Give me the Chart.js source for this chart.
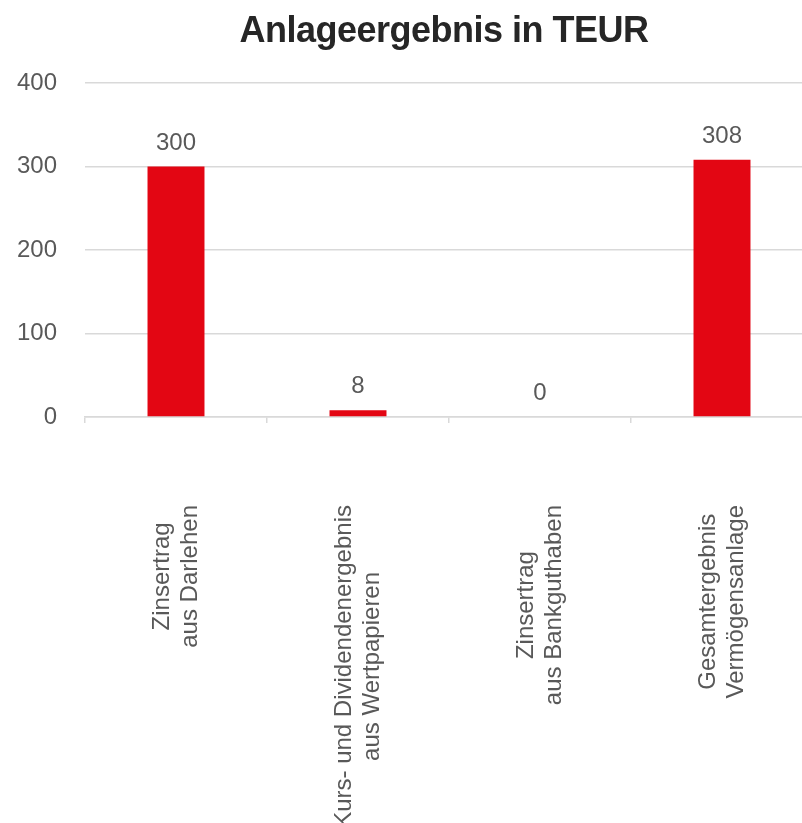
<!DOCTYPE html>
<html lang="de">
<head>
<meta charset="utf-8">
<title>Anlageergebnis in TEUR</title>
<script src="https://cdn.jsdelivr.net/npm/chart.js@4.4.1/dist/chart.umd.min.js"></script>
<style>
    html, body { margin: 0; padding: 0; background: #fff; overflow: hidden; }
    #wrap { width: 830px; height: 823px; }
</style>
</head>
<body>
<div id="wrap"><canvas id="chart" width="830" height="823"></canvas></div>
<script>
// Anlageergebnis chart data
const titleText = 'Anlageergebnis in TEUR';
const categories = [
    ['Zinsertrag', 'aus Darlehen'],
    ['Kurs- und Dividendenergebnis', 'aus Wertpapieren'],
    ['Zinsertrag', 'aus Bankguthaben'],
    ['Gesamtergebnis', 'Vermögensanlage']
];
const values = [300, 8, 0, 308];
const yTicks = [0, 100, 200, 300, 400];

const RED = '#e30613';
const GREY_TEXT = '#595959';
const GRID = '#d9d9d9';
const FONT = '"Liberation Sans", Arial, sans-serif';

// Title, category labels and value labels drawn on the canvas
const textLayer = {
    id: 'textLayer',
    afterDatasetsDraw(chart) {
        const ctx = chart.ctx;
        const xScale = chart.scales.x;

        // values above the bars
        ctx.save();
        ctx.font = '24px ' + FONT;
        ctx.fillStyle = GREY_TEXT;
        ctx.textAlign = 'center';
        ctx.textBaseline = 'alphabetic';
        chart.getDatasetMeta(0).data.forEach((bar, i) => {
            ctx.fillText(String(values[i]), bar.x, bar.y - 17);
        });
        ctx.restore();

        // rotated category labels, lines centered within their block
        ctx.save();
        ctx.font = '24px ' + FONT;
        ctx.fillStyle = GREY_TEXT;
        ctx.textAlign = 'center';
        ctx.textBaseline = 'middle';
        const lineHeight = 28;
        const top = 505;
        categories.forEach((lines, i) => {
            const x = xScale.getPixelForValue(i);
            const maxW = Math.max(...lines.map(l => ctx.measureText(l).width));
            ctx.save();
            ctx.translate(x, top + maxW / 2);
            ctx.rotate(-Math.PI / 2);
            lines.forEach((line, j) => {
                ctx.fillText(line, 0, (j - (lines.length - 1) / 2) * lineHeight);
            });
            ctx.restore();
        });
        ctx.restore();

        // title
        ctx.save();
        ctx.font = 'bold 36px ' + FONT;
        ctx.letterSpacing = '-0.5px';
        ctx.fillStyle = '#262626';
        ctx.textAlign = 'center';
        ctx.textBaseline = 'alphabetic';
        ctx.fillText(titleText, 444, 42);
        ctx.restore();
    }
};

new Chart(document.getElementById('chart'), {
    type: 'bar',
    data: {
        labels: categories,
        datasets: [{
            data: values,
            backgroundColor: RED,
            borderWidth: 0,
            categoryPercentage: 1,
            barPercentage: 0.313
        }]
    },
    options: {
        responsive: false,
        animation: false,
        layout: { padding: { top: 83, right: 17, bottom: 400, left: 0 } },
        plugins: {
            legend: { display: false },
            tooltip: { enabled: false }
        },
        scales: {
            x: {
                grid: {
                    offset: true,
                    drawOnChartArea: false,
                    drawTicks: true,
                    tickLength: 6,
                    color: GRID,
                    lineWidth: 1.5
                },
                border: { display: true, color: GRID, width: 1.5 },
                ticks: { display: false }
            },
            y: {
                min: 0,
                max: 400,
                afterBuildTicks: (scale) => {
                    scale.ticks = yTicks.map(v => ({ value: v }));
                },
                afterFit: (scale) => { scale.width = 85; },
                grid: { color: GRID, lineWidth: 1.5, drawTicks: false },
                border: { display: false },
                ticks: {
                    padding: 28,
                    color: GREY_TEXT,
                    font: { family: FONT, size: 24 }
                }
            }
        }
    },
    plugins: [textLayer]
});
</script>
</body>
</html>
